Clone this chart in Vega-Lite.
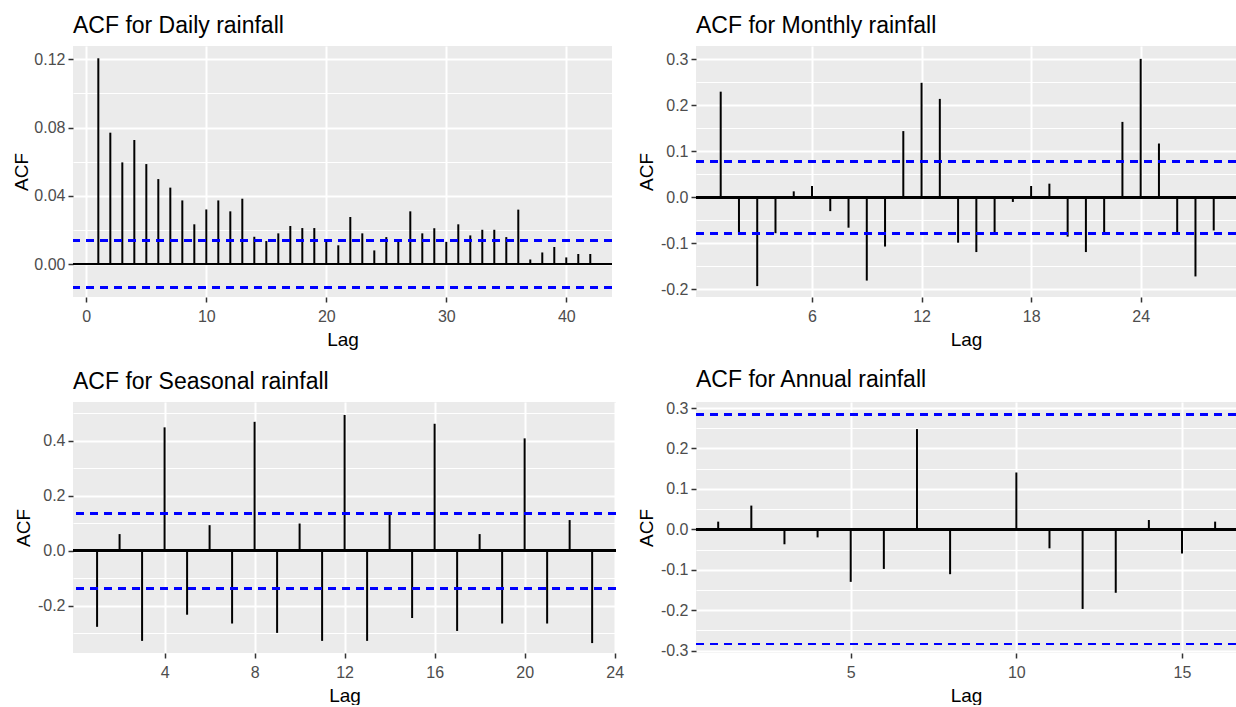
{
  "$schema": "https://vega.github.io/schema/vega-lite/v6.json",
  "padding": {"left": 12, "top": 15, "right": 0, "bottom": 0},
  "background": "white",
  "columns": 2,
  "spacing": {"column": 13, "row": 20},
  "datasets": {
    "daily": [
      {"lag": 1, "acf": 0.1206}, {"lag": 2, "acf": 0.077}, {"lag": 3, "acf": 0.0596}, {"lag": 4, "acf": 0.0727},
      {"lag": 5, "acf": 0.0586}, {"lag": 6, "acf": 0.0498}, {"lag": 7, "acf": 0.0448}, {"lag": 8, "acf": 0.0373},
      {"lag": 9, "acf": 0.0233}, {"lag": 10, "acf": 0.032}, {"lag": 11, "acf": 0.0373}, {"lag": 12, "acf": 0.0309},
      {"lag": 13, "acf": 0.0383}, {"lag": 14, "acf": 0.016}, {"lag": 15, "acf": 0.0135}, {"lag": 16, "acf": 0.018},
      {"lag": 17, "acf": 0.0223}, {"lag": 18, "acf": 0.0211}, {"lag": 19, "acf": 0.0211}, {"lag": 20, "acf": 0.0131},
      {"lag": 21, "acf": 0.011}, {"lag": 22, "acf": 0.0276}, {"lag": 23, "acf": 0.018}, {"lag": 24, "acf": 0.008},
      {"lag": 25, "acf": 0.0158}, {"lag": 26, "acf": 0.013}, {"lag": 27, "acf": 0.0309}, {"lag": 28, "acf": 0.018},
      {"lag": 29, "acf": 0.021}, {"lag": 30, "acf": 0.013}, {"lag": 31, "acf": 0.0233}, {"lag": 32, "acf": 0.0168},
      {"lag": 33, "acf": 0.0201}, {"lag": 34, "acf": 0.0201}, {"lag": 35, "acf": 0.0158}, {"lag": 36, "acf": 0.0319},
      {"lag": 37, "acf": 0.0027}, {"lag": 38, "acf": 0.0068}, {"lag": 39, "acf": 0.01}, {"lag": 40, "acf": 0.0039},
      {"lag": 41, "acf": 0.0059}, {"lag": 42, "acf": 0.0059}
    ],
    "monthly": [
      {"lag": 1, "acf": 0.2297}, {"lag": 2, "acf": -0.078}, {"lag": 3, "acf": -0.193}, {"lag": 4, "acf": -0.078},
      {"lag": 5, "acf": 0.013}, {"lag": 6, "acf": 0.0246}, {"lag": 7, "acf": -0.03}, {"lag": 8, "acf": -0.066},
      {"lag": 9, "acf": -0.181}, {"lag": 10, "acf": -0.107}, {"lag": 11, "acf": 0.144}, {"lag": 12, "acf": 0.249},
      {"lag": 13, "acf": 0.214}, {"lag": 14, "acf": -0.0986}, {"lag": 15, "acf": -0.119}, {"lag": 16, "acf": -0.078},
      {"lag": 17, "acf": -0.01}, {"lag": 18, "acf": 0.0246}, {"lag": 19, "acf": 0.0297}, {"lag": 20, "acf": -0.0855},
      {"lag": 21, "acf": -0.119}, {"lag": 22, "acf": -0.077}, {"lag": 23, "acf": 0.164}, {"lag": 24, "acf": 0.301},
      {"lag": 25, "acf": 0.117}, {"lag": 26, "acf": -0.081}, {"lag": 27, "acf": -0.172}, {"lag": 28, "acf": -0.072}
    ],
    "seasonal": [
      {"lag": 1, "acf": -0.276}, {"lag": 2, "acf": 0.0606}, {"lag": 3, "acf": -0.327}, {"lag": 4, "acf": 0.448},
      {"lag": 5, "acf": -0.232}, {"lag": 6, "acf": 0.093}, {"lag": 7, "acf": -0.264}, {"lag": 8, "acf": 0.468},
      {"lag": 9, "acf": -0.298}, {"lag": 10, "acf": 0.099}, {"lag": 11, "acf": -0.327}, {"lag": 12, "acf": 0.493},
      {"lag": 13, "acf": -0.327}, {"lag": 14, "acf": 0.136}, {"lag": 15, "acf": -0.244}, {"lag": 16, "acf": 0.461},
      {"lag": 17, "acf": -0.291}, {"lag": 18, "acf": 0.0606}, {"lag": 19, "acf": -0.264}, {"lag": 20, "acf": 0.408},
      {"lag": 21, "acf": -0.264}, {"lag": 22, "acf": 0.1115}, {"lag": 23, "acf": -0.335}
    ],
    "annual": [
      {"lag": 1, "acf": 0.019}, {"lag": 2, "acf": 0.0587}, {"lag": 3, "acf": -0.037}, {"lag": 4, "acf": -0.02},
      {"lag": 5, "acf": -0.13}, {"lag": 6, "acf": -0.098}, {"lag": 7, "acf": 0.248}, {"lag": 8, "acf": -0.111},
      {"lag": 9, "acf": 0.002}, {"lag": 10, "acf": 0.1406}, {"lag": 11, "acf": -0.047}, {"lag": 12, "acf": -0.197},
      {"lag": 13, "acf": -0.157}, {"lag": 14, "acf": 0.023}, {"lag": 15, "acf": -0.06}, {"lag": 16, "acf": 0.019}
    ]
  },
  "concat": [
    {
      "title": "ACF for Daily rainfall",
      "width": 539, "height": 251,
      "data": {"name": "daily"},
      "resolve": {"axis": {"y": "independent"}},
      "layer": [
        {"mark": {"type": "rule", "color": "black", "strokeWidth": 2},
         "encoding": {"y": {"datum": 0, "type": "quantitative", "scale": {"domain": [-0.0193, 0.1278], "nice": false, "zero": false},
           "axis": {"orient": "left", "values": [0.02, 0.06, 0.1], "grid": true, "gridWidth": 1, "labels": false, "ticks": false, "domain": false, "title": null, "minExtent": 0, "maxExtent": 0}}}},
        {"mark": {"type": "rule", "color": "black", "strokeWidth": 2, "strokeCap": "butt"},
         "encoding": {
           "x": {"field": "lag", "type": "quantitative", "scale": {"domain": [-1.11, 43.81], "nice": false, "zero": false},
                 "axis": {"values": [0, 10, 20, 30, 40], "format": "d", "title": "Lag", "grid": true, "gridWidth": 2}},
           "y": {"field": "acf", "type": "quantitative", "scale": {"domain": [-0.0193, 0.1278], "nice": false, "zero": false},
                 "axis": {"orient": "left", "values": [0, 0.04, 0.08, 0.12], "format": ".2f", "title": "ACF", "grid": true, "gridWidth": 2,
                          "minExtent": 38.5, "maxExtent": 38.5, "titlePadding": 3}},
           "y2": {"datum": 0}
         }},
        {"mark": {"type": "rule", "color": "#0000FF", "strokeWidth": 2, "strokeDash": [8, 6]},
         "encoding": {"y": {"datum": 0.0139, "type": "quantitative", "scale": {"domain": [-0.0193, 0.1278], "nice": false, "zero": false}, "axis": null}}},
        {"mark": {"type": "rule", "color": "#0000FF", "strokeWidth": 2, "strokeDash": [8, 6]},
         "encoding": {"y": {"datum": -0.0139, "type": "quantitative", "scale": {"domain": [-0.0193, 0.1278], "nice": false, "zero": false}, "axis": null}}}
      ]
    },
    {
      "title": "ACF for Monthly rainfall",
      "width": 540, "height": 251,
      "data": {"name": "monthly"},
      "resolve": {"axis": {"y": "independent"}},
      "layer": [
        {"mark": {"type": "rule", "color": "black", "strokeWidth": 2},
         "encoding": {"y": {"datum": 0, "type": "quantitative", "scale": {"domain": [-0.2167, 0.329], "nice": false, "zero": false},
           "axis": {"orient": "left", "values": [-0.15, -0.05, 0.05, 0.15, 0.25], "grid": true, "gridWidth": 1, "labels": false, "ticks": false, "domain": false, "title": null, "minExtent": 0, "maxExtent": 0}}}},
        {"mark": {"type": "rule", "color": "black", "strokeWidth": 2, "strokeCap": "butt"},
         "encoding": {
           "x": {"field": "lag", "type": "quantitative", "scale": {"domain": [-0.353, 29.22], "nice": false, "zero": false},
                 "axis": {"values": [6, 12, 18, 24], "format": "d", "title": "Lag", "grid": true, "gridWidth": 2}},
           "y": {"field": "acf", "type": "quantitative", "scale": {"domain": [-0.2167, 0.329], "nice": false, "zero": false},
                 "axis": {"orient": "left", "values": [-0.2, -0.1, 0, 0.1, 0.2, 0.3], "format": ".1f", "labelExpr": "replace(datum.label, '−', '-')",
                          "title": "ACF", "grid": true, "gridWidth": 2, "minExtent": 37, "maxExtent": 37, "titlePadding": 3}},
           "y2": {"datum": 0}
         }},
        {"mark": {"type": "rule", "color": "#0000FF", "strokeWidth": 2, "strokeDash": [8, 6]},
         "encoding": {"y": {"datum": 0.078, "type": "quantitative", "scale": {"domain": [-0.2167, 0.329], "nice": false, "zero": false}, "axis": null}}},
        {"mark": {"type": "rule", "color": "#0000FF", "strokeWidth": 2, "strokeDash": [8, 6]},
         "encoding": {"y": {"datum": -0.078, "type": "quantitative", "scale": {"domain": [-0.2167, 0.329], "nice": false, "zero": false}, "axis": null}}}
      ]
    },
    {
      "title": "ACF for Seasonal rainfall",
      "width": 543, "height": 251,
      "data": {"name": "seasonal"},
      "resolve": {"axis": {"y": "independent"}},
      "layer": [
        {"mark": {"type": "rule", "color": "black", "strokeWidth": 2},
         "encoding": {"y": {"datum": 0, "type": "quantitative", "scale": {"domain": [-0.371, 0.54], "nice": false, "zero": false},
           "axis": {"orient": "left", "values": [-0.3, -0.1, 0.1, 0.3, 0.5], "grid": true, "gridWidth": 1, "labels": false, "ticks": false, "domain": false, "title": null, "minExtent": 0, "maxExtent": 0}}}},
        {"mark": {"type": "rule", "color": "black", "strokeWidth": 2, "strokeCap": "butt"},
         "encoding": {
           "x": {"field": "lag", "type": "quantitative", "scale": {"domain": [-0.07, 24.06], "nice": false, "zero": false},
                 "axis": {"values": [4, 8, 12, 16, 20, 24], "format": "d", "title": "Lag", "grid": true, "gridWidth": 2}},
           "y": {"field": "acf", "type": "quantitative", "scale": {"domain": [-0.371, 0.54], "nice": false, "zero": false},
                 "axis": {"orient": "left", "values": [-0.2, 0, 0.2, 0.4], "format": ".1f", "labelExpr": "replace(datum.label, '−', '-')",
                          "title": "ACF", "grid": true, "gridWidth": 2, "minExtent": 37, "maxExtent": 37, "titlePadding": 3}},
           "y2": {"datum": 0}
         }},
        {"mark": {"type": "rule", "color": "#0000FF", "strokeWidth": 2, "strokeDash": [8, 6]},
         "encoding": {"y": {"datum": 0.136, "type": "quantitative", "scale": {"domain": [-0.371, 0.54], "nice": false, "zero": false}, "axis": null}}},
        {"mark": {"type": "rule", "color": "#0000FF", "strokeWidth": 2, "strokeDash": [8, 6]},
         "encoding": {"y": {"datum": -0.136, "type": "quantitative", "scale": {"domain": [-0.371, 0.54], "nice": false, "zero": false}, "axis": null}}}
      ]
    },
    {
      "title": "ACF for Annual rainfall",
      "width": 540, "height": 251,
      "data": {"name": "annual"},
      "resolve": {"axis": {"y": "independent"}},
      "layer": [
        {"mark": {"type": "rule", "color": "black", "strokeWidth": 2},
         "encoding": {"y": {"datum": 0, "type": "quantitative", "scale": {"domain": [-0.306, 0.315], "nice": false, "zero": false},
           "axis": {"orient": "left", "values": [-0.25, -0.15, -0.05, 0.05, 0.15, 0.25], "grid": true, "gridWidth": 1, "labels": false, "ticks": false, "domain": false, "title": null, "minExtent": 0, "maxExtent": 0}}}},
        {"mark": {"type": "rule", "color": "black", "strokeWidth": 2, "strokeCap": "butt"},
         "encoding": {
           "x": {"field": "lag", "type": "quantitative", "scale": {"domain": [0.33, 16.63], "nice": false, "zero": false},
                 "axis": {"values": [5, 10, 15], "format": "d", "title": "Lag", "grid": true, "gridWidth": 2}},
           "y": {"field": "acf", "type": "quantitative", "scale": {"domain": [-0.306, 0.315], "nice": false, "zero": false},
                 "axis": {"orient": "left", "values": [-0.3, -0.2, -0.1, 0, 0.1, 0.2, 0.3], "format": ".1f", "labelExpr": "replace(datum.label, '−', '-')",
                          "title": "ACF", "grid": true, "gridWidth": 2, "minExtent": 37, "maxExtent": 37, "titlePadding": 3}},
           "y2": {"datum": 0}
         }},
        {"mark": {"type": "rule", "color": "#0000FF", "strokeWidth": 2, "strokeDash": [8, 6]},
         "encoding": {"y": {"datum": 0.2835, "type": "quantitative", "scale": {"domain": [-0.306, 0.315], "nice": false, "zero": false}, "axis": null}}},
        {"mark": {"type": "rule", "color": "#0000FF", "strokeWidth": 2, "strokeDash": [8, 6]},
         "encoding": {"y": {"datum": -0.2835, "type": "quantitative", "scale": {"domain": [-0.306, 0.315], "nice": false, "zero": false}, "axis": null}}}
      ]
    }
  ],
  "config": {
    "font": "Liberation Sans",
    "view": {"fill": "#EBEBEB", "stroke": null},
    "axis": {
      "domain": false,
      "labelColor": "#4D4D4D", "labelFontSize": 16, "labelFont": "Liberation Sans",
      "labelPadding": 3, "labelFlush": false, "labelOverlap": false, "labelBound": false,
      "tickColor": "#333333", "tickSize": 5, "tickWidth": 1.5,
      "titleFontSize": 19, "titleFontWeight": "normal", "titleColor": "#000000", "titleFont": "Liberation Sans",
      "gridColor": "#FFFFFF", "gridOpacity": 1
    },
    "axisX": {"labelPadding": 6, "titlePadding": 6},
    "title": {"anchor": "start", "frame": "group", "fontSize": 23, "fontWeight": "normal", "color": "#000000", "font": "Liberation Sans", "offset": 8}
  }
}
